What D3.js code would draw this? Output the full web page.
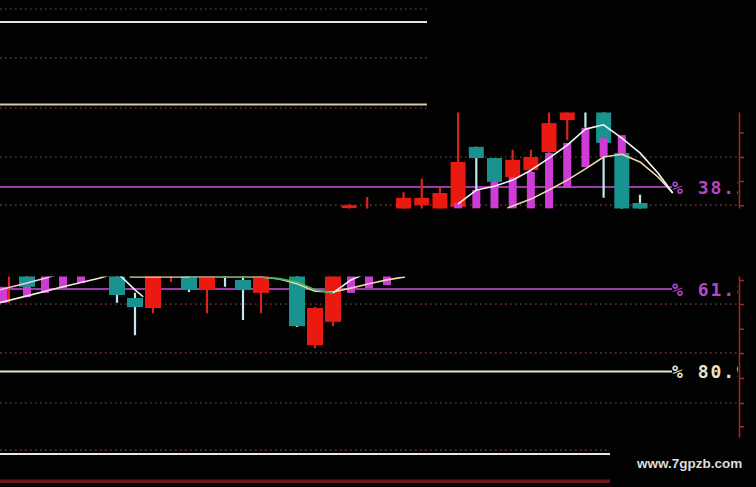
<!DOCTYPE html>
<html><head><meta charset="utf-8">
<script src="https://cdn.jsdelivr.net/npm/d3@7"></script>
<style>html,body{margin:0;padding:0;background:#000;}svg{display:block}</style>
</head><body>
<svg id="chart" width="756" height="487"></svg>
<script>
// ---------- DATA (values in retracement-% units) ----------
const levelValues = [0, 19.1, 38.2, 61.8, 80.9, 100, 106.3];
const levelLabels = ["", "", "38.2", "61.8", "80.9", "", ""];
const gridValues  = [-3.0, 8.3, 19.9, 31.25, 42.4, 65.3, 76.6, 88.2, 99.1];
const axisTicks   = [25.6, 31.25, 36.8, 42.4, 59.7, 65.3, 71.0, 76.6, 82.4, 88.2, 93.6];

// upper-right candle strip
const candlesA = [
  {i:0,  o:43.1, h:42.2, l:43.3, c:42.4},
  {i:1,  o:44.0, h:40.5, l:44.2, c:43.6},
  {i:3,  o:43.8, h:39.4, l:44.0, c:40.7},
  {i:4,  o:42.4, h:36.3, l:43.3, c:40.7},
  {i:5,  o:43.6, h:38.4, l:43.8, c:39.6},
  {i:6,  o:42.8, h:20.5, l:43.1, c:32.4},
  {i:7,  o:28.9, h:28.9, l:42.8, c:31.5},
  {i:8,  o:31.5, h:31.5, l:37.2, c:37.0},
  {i:9,  o:35.9, h:29.6, l:42.8, c:31.9},
  {i:10, o:34.3, h:29.6, l:36.1, c:31.25},
  {i:11, o:30.1, h:20.0, l:31.0, c:23.4},
  {i:12, o:22.7, h:18.0, l:27.3, c:19.0},
  {i:13, o:19.5, h:18.5, l:24.5, c:20.5},
  {i:14, o:19.0, h:18.0, l:40.7, c:28.0},
  {i:15, o:30.3, h:26.6, l:44.5, c:44.0},
  {i:16, o:41.9, h:40.0, l:43.8, c:43.6}
];
const barsA = [
  {i:6, top:41.9, bot:43.2}, {i:7, top:38.9, bot:43.2}, {i:8, top:37.0, bot:43.2},
  {i:9, top:35.9, bot:43.2}, {i:10, top:34.7, bot:43.2}, {i:11, top:30.3, bot:43.2},
  {i:12, top:28.0, bot:38.4}, {i:13, top:24.5, bot:33.6}, {i:14, top:26.9, bot:31.25},
  {i:15, top:26.2, bot:30.8}
];
const maA5  = [[6,42.1],[7,38.9],[8,38.0],[9,36.6],[10,34.3],[11,31.5],[12,28.5],[13,24.8],[14,23.8],[15,26.9],[16,30.3],[17,35.0],[17.8,39.6]];
const maA10 = [[8.7,43.1],[9,42.6],[10,41.0],[11,38.9],[12,36.6],[13,34.0],[14,31.25],[15,30.6],[16,32.4],[17,35.9],[17.8,39.6]];

// left-middle candle strip
const candlesB = [
  {i:-1, o:57.5, h:56.0, l:65.0, c:56.5},
  {i:0,  o:57.5, h:57.0, l:61.3, c:61.3},
  {i:5,  o:57.5, h:57.0, l:65.0, c:63.2},
  {i:6,  o:63.9, h:62.7, l:72.5, c:66.0},
  {i:7,  o:66.2, h:57.0, l:67.4, c:57.5},
  {i:8,  o:58.0, h:57.0, l:60.2, c:57.2},
  {i:9,  o:57.5, h:57.0, l:62.5, c:62.0},
  {i:10, o:62.0, h:57.0, l:67.4, c:57.5},
  {i:11, o:57.2, h:57.0, l:61.3, c:58.0},
  {i:12, o:59.7, h:57.0, l:69.0, c:62.0},
  {i:13, o:62.7, h:57.0, l:67.4, c:57.5},
  {i:15, o:57.5, h:57.0, l:70.6, c:70.4},
  {i:16, o:74.8, h:66.0, l:75.5, c:66.2},
  {i:17, o:69.4, h:57.0, l:70.4, c:57.5}
];
const barsB = [
  {i:-1.3, top:61.3, bot:65.0}, {i:0, top:61.3, bot:63.7}, {i:1, top:57.5, bot:62.7},
  {i:2, top:57.5, bot:61.6}, {i:3, top:57.5, bot:60.4}, {i:18, top:57.5, bot:62.7},
  {i:19, top:57.5, bot:61.6}, {i:20, top:57.5, bot:60.9}
];
const maBpink  = [[-2,62.5],[0,60.4],[1,59.3],[2,58.1]];
const maBwhite = [[-2,65.5],[0,63.4],[2,61.3],[4,59.3],[5,58.1]];
const maBfast  = [[5,58.0],[6,62.0],[6.45,63.6],null,[17,62.7],[18,59.7],[19,57.9]];
const maBbeige = [[5.7,59.0],[9,59.0],[13,59.0],[14,59.5],[15,60.6],[16,62.3],[17,62.5],[18,61.6],[19,60.6],[20,59.7],[21,59.0]];
const maBgreen = [[9,59.1],[13,59.1],[14,59.4],[15,60.2],[16,62.0],[17,62.7]];

// ---------- DRAWING ----------
const W = 756, H = 487;
const svg = d3.select("#chart");
svg.append("rect").attr("width", W).attr("height", H).attr("fill", "#020202");

const y  = d3.scaleLinear().domain([0, 100]).range([22, 454]);
const xA = d3.scaleLinear().domain([0, 16]).range([349, 640]);
const xB = d3.scaleLinear().domain([0, 20]).range([27, 387]);

const defs = svg.append("defs");
defs.append("clipPath").attr("id", "clipA").append("rect")
  .attr("x", 340).attr("y", 112.5).attr("width", 399).attr("height", 96);
defs.append("clipPath").attr("id", "clipB").append("rect")
  .attr("x", 0).attr("y", 276.5).attr("width", 420).attr("height", 90);
const ca = defs.append("clipPath").attr("id", "clipAxis");
ca.append("rect").attr("x", 700).attr("y", 112.5).attr("width", 56).attr("height", 96);
ca.append("rect").attr("x", 700).attr("y", 276.5).attr("width", 56).attr("height", 161);
defs.append("clipPath").attr("id", "clipLabel").append("rect")
  .attr("x", 0).attr("y", 0).attr("width", 738).attr("height", H);

// dotted grid
const gridEnd = v => v < 20 ? 427 : (v > 95 ? 610 : 740);
svg.append("g").selectAll("line").data(gridValues).join("line")
  .attr("x1", 0).attr("x2", d => gridEnd(d))
  .attr("y1", d => y(d)).attr("y2", d => y(d))
  .attr("stroke", "#5e3222").attr("stroke-width", 1.6)
  .attr("stroke-dasharray", "1.6,3.4");

// level lines
const levels = levelValues.map((v, k) => ({v, label: levelLabels[k]}));
const levelColor = v => (v === 38.2 || v === 61.8) ? "#9a3aa8"
  : v === 19.1 ? "#d8cbaa" : v === 80.9 ? "#e8e4c8" : v > 100 ? "#6a1a1a" : "#e6e6e6";
const levelEnd = v => v < 30 ? 427 : (v > 90 ? 610 : 672);
svg.append("g").selectAll("line").data(levels).join("line")
  .attr("x1", 0).attr("x2", d => levelEnd(d.v))
  .attr("y1", d => y(d.v)).attr("y2", d => y(d.v))
  .attr("stroke", d => levelColor(d.v))
  .attr("stroke-width", d => d.v > 100 ? 3.5 : 2);

// right axis
const axisG = svg.append("g").attr("clip-path", "url(#clipAxis)")
  .append("g").attr("transform", "translate(739,0)")
  .call(d3.axisRight(y).tickValues(axisTicks).tickSize(5).tickSizeOuter(0).tickFormat(""));
axisG.selectAll("path,line").attr("stroke", "#a52a22").attr("stroke-width", 1.5);

// candle panels
function panel(clipId, candles, bars, x, bw) {
  const g = svg.append("g").attr("clip-path", `url(#${clipId})`);
  const up = d => d.c < d.o;
  g.append("g").selectAll("line").data(candles).join("line")
    .attr("x1", d => x(d.i)).attr("x2", d => x(d.i))
    .attr("y1", d => y(d.h)).attr("y2", d => y(d.l))
    .attr("stroke", d => up(d) ? "#d8241c" : "#bfe9ee").attr("stroke-width", 2.2);
  g.append("g").selectAll("rect").data(candles).join("rect")
    .attr("x", d => x(d.i) - bw / 2).attr("width", bw)
    .attr("y", d => y(Math.min(d.o, d.c)))
    .attr("height", d => Math.max(1, Math.abs(y(d.o) - y(d.c))))
    .attr("fill", d => up(d) ? "#ea1a10" : "#18938f");
  g.append("g").selectAll("rect").data(bars).join("rect")
    .attr("x", d => x(d.i) - 4).attr("width", 8)
    .attr("y", d => y(d.top)).attr("height", d => y(d.bot) - y(d.top))
    .attr("fill", "#cf3bd6");
  return g;
}
function maLine(g, data, x, color, w) {
  const line = d3.line().defined(d => d !== null).x(d => x(d[0])).y(d => y(d[1]));
  g.append("path").attr("d", line(data)).attr("fill", "none")
    .attr("stroke", color).attr("stroke-width", w).attr("stroke-linejoin", "round");
}

const gA = panel("clipA", candlesA, barsA, xA, 15);
maLine(gA, maA10, xA, "#e9d9a6", 1.6);
maLine(gA, maA5, xA, "#f4f4f4", 1.6);

const gB = panel("clipB", candlesB, barsB, xB, 16);
maLine(gB, maBbeige, xB, "#ead9a4", 1.6);
maLine(gB, maBgreen, xB, "#3fb860", 1.6);
maLine(gB, maBpink, xB, "#f2c6e6", 1.6);
maLine(gB, maBwhite, xB, "#f0ecd8", 1.6);
maLine(gB, maBfast, xB, "#f4f4f4", 1.6);

// level labels
svg.append("g").attr("clip-path", "url(#clipLabel)")
  .selectAll("text").data(levels.filter(d => d.label)).join("text")
  .attr("x", 672).attr("y", d => y(d.v) + 7)
  .attr("font-family", "DejaVu Sans Mono, monospace").attr("font-size", 18)
  .attr("font-weight", "bold").attr("letter-spacing", 2)
  .attr("fill", d => d.v === 80.9 ? "#e8e4c8" : "#b348c2")
  .text(d => "% " + d.label);

// watermark
svg.append("text").attr("x", 637).attr("y", 468)
  .attr("font-family", "Liberation Sans, Arial, sans-serif").attr("font-weight", "bold")
  .attr("font-size", 13.5).attr("fill", "#dedede").text("www.7gpzb.com");
</script>
</body></html>
